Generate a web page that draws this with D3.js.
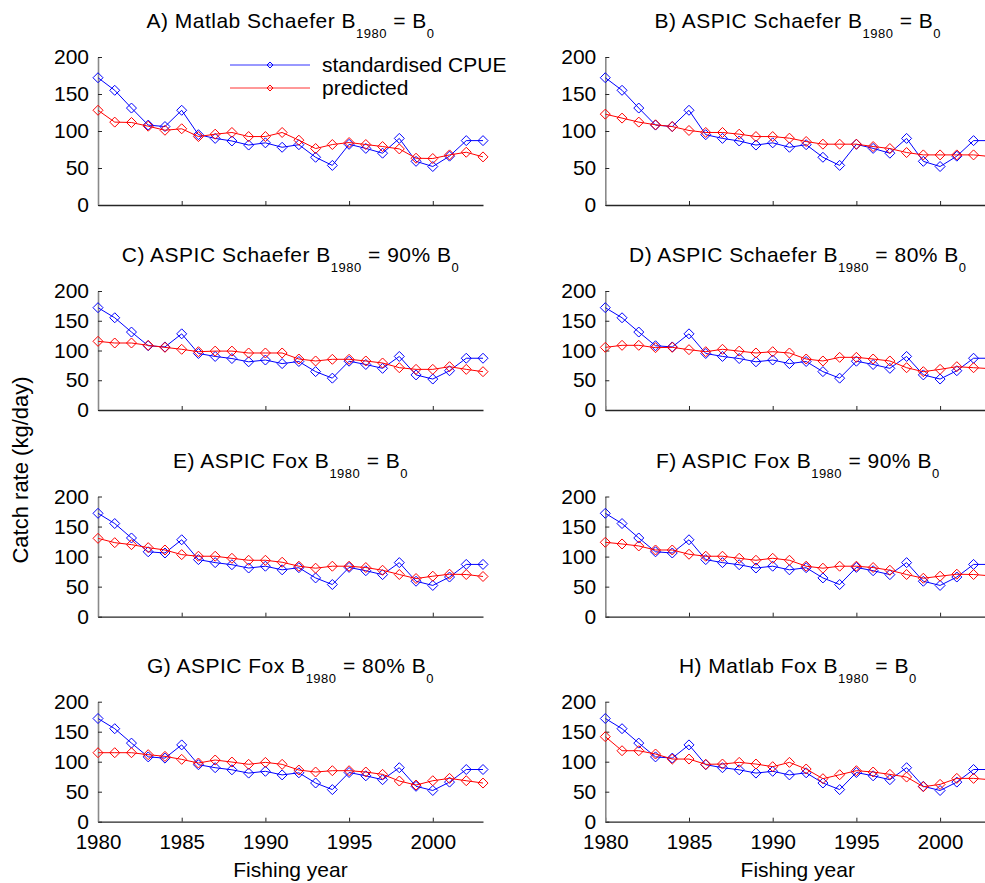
<!DOCTYPE html>
<html>
<head>
<meta charset="utf-8">
<script src="https://cdn.jsdelivr.net/npm/d3@7"></script>
<style>
  html, body { margin: 0; padding: 0; background: #fff; }
  svg { display: block; font-family: "Liberation Sans", Arial, sans-serif; }
</style>
</head>
<body>
<svg id="chart" width="985" height="883"></svg>
<script>
// ---------------- DATA ----------------
const years = [1980,1981,1982,1983,1984,1985,1986,1987,1988,1989,1990,1991,
               1992,1993,1994,1995,1996,1997,1998,1999,2000,2001,2002,2003];

const cpue = [172,155,131,108,106,128,95,90,86.5,81,84,78,
              81.5,64.5,53.5,82,76.5,70,90,59,52,66,87,87];

const predA = [128,112,111.5,106.5,101,103,92.5,95.7,98,92.5,92.5,98,
               87.6,76.3,81.7,84.4,81.7,79,75.8,63.2,62.8,67.7,71.3,65];
const predB = [122.8,117.4,112,108.4,106,100.7,98,98,95.7,92.5,92.5,90.3,
               85.8,82.2,82.2,82.2,79,76.3,70.9,67.7,67.7,67.7,67.7,65.5];
const predC = [115.4,112.6,112.6,108.7,105.3,102,98,99,99,95.8,95.8,95.8,
               85.7,82.4,85.2,85.2,82.4,79,71.1,68.3,68.3,72.8,68.3,64.4];
const predD = [105.3,108.7,108.7,104.8,105.3,101.4,98,102,99,95.8,98,95.8,
               85.7,82.4,88.5,88.5,85.7,82.4,71.1,64.4,68.3,72.8,71.1,69.5];
const predE = [130.4,123.2,119.9,114.9,111,103.3,100.6,100.6,97.2,93.9,93.9,90.6,
               84,80.7,84,84,81.8,77.3,70.2,63.5,67.4,70.7,70.2,66.9];
const predF = [123.8,121,117.7,111,111,103.9,100.6,100.6,97.2,93.9,97.2,93.9,
               84,80.7,84,84,81.8,77.3,70.2,64,67.4,70.7,70.2,68];
const predG = [115,115,115,111.7,108.9,103.9,97.8,102.8,99.4,95.6,98.9,95.6,
               86.1,82.8,85,85,82.8,78.9,67.8,61.1,68.3,72.2,68.3,64.4];
const predH = [141.7,118.3,118.3,112.8,104.4,104.4,95.6,96.1,98.9,96.1,91.7,98.9,
               87.8,71.7,78.3,85,82.8,78.9,74.4,58.3,62.2,72.2,72.2,70];

const titlePrefix = ["A) Matlab Schaefer", "B) ASPIC Schaefer", "C) ASPIC Schaefer", "D) ASPIC Schaefer",
                     "E) ASPIC Fox", "F) ASPIC Fox", "G) ASPIC Fox", "H) Matlab Fox"];
const titleRhs = ["B", "B", "90% B", "80% B", "B", "90% B", "80% B", "B"];
const predicted = [predA, predB, predC, predD, predE, predF, predG, predH];

const yTicks = [0, 50, 100, 150, 200];
const xTicks = [1980, 1985, 1990, 1995, 2000];
const seriesNames = ["standardised CPUE", "predicted"];
const yLabel = "Catch rate (kg/day)";
const xLabel = "Fishing year";

// ---------------- LAYOUT ----------------
const cols = [{x0: 98, x1: 483}, {x0: 605.3, x1: 990.3}];
const rows = [{top: 57, bottom: 205}, {top: 291, bottom: 410},
              {top: 496.5, bottom: 616.7}, {top: 701.7, bottom: 821.7}];
const BLUE = "#0000ff", RED = "#ff0000";
const FONT = 21, SUB = 13;

const svg = d3.select("#chart");
const diamond = r => `M0,${-r}L${r},0L0,${r}L${-r},0Z`;

predicted.forEach((pred, i) => {
  const col = cols[i % 2], row = rows[Math.floor(i / 2)];
  const isBottom = Math.floor(i / 2) === rows.length - 1;
  const x = d3.scaleLinear().domain([1980, 2003]).range([col.x0, col.x1]);
  const y = d3.scaleLinear().domain([0, 200]).range([row.bottom, row.top]);
  const g = svg.append("g");

  // axes
  const xa = g.append("g").attr("transform", `translate(0,${row.bottom})`)
    .call(d3.axisBottom(x).tickValues(xTicks).tickSizeInner(-4).tickSizeOuter(0).tickPadding(13)
      .tickFormat(isBottom ? d3.format("d") : () => ""));
  xa.select(".domain").attr("stroke", "#262626").attr("stroke-width", 1.3);
  xa.selectAll(".tick line").attr("stroke", "#262626");
  xa.selectAll("text").attr("font-size", 20.5).attr("fill", "#000").attr("font-family", "Liberation Sans, Arial, sans-serif");

  const ya = g.append("g").attr("transform", `translate(${col.x0},0)`)
    .call(d3.axisLeft(y).tickValues(yTicks).tickSizeInner(-4).tickSizeOuter(0).tickPadding(9));
  ya.select(".domain").attr("stroke", "#8a8a8a").attr("stroke-width", 1.6);
  ya.selectAll(".tick line").attr("stroke", "#262626");
  ya.selectAll("text").attr("font-size", FONT).attr("fill", "#000").attr("font-family", "Liberation Sans, Arial, sans-serif");

  // series
  const line = d3.line().x((d, j) => x(years[j])).y(d => y(d));
  [[cpue, BLUE], [pred, RED]].forEach(([vals, color]) => {
    g.append("path").datum(vals).attr("d", line)
      .attr("fill", "none").attr("stroke", color).attr("stroke-width", 1);
    g.selectAll(null).data(vals).enter().append("path")
      .attr("d", diamond(5))
      .attr("transform", (d, j) => `translate(${x(years[j])},${y(d)})`)
      .attr("fill", "none").attr("stroke", color).attr("stroke-width", 1);
  });

  // title
  const cx = (col.x0 + col.x1) / 2;
  const t = g.append("text").attr("x", cx).attr("y", row.top - 29)
    .attr("text-anchor", "middle").attr("font-size", FONT).attr("fill", "#000")
    .attr("letter-spacing", 0.5);
  t.append("tspan").text(titlePrefix[i] + " B");
  t.append("tspan").attr("font-size", SUB).attr("dy", 10).text("1980");
  t.append("tspan").attr("dy", -10).text(" = " + titleRhs[i]);
  t.append("tspan").attr("font-size", SUB).attr("dy", 10).text("0");

  if (isBottom) {
    g.append("text").attr("x", cx).attr("y", 877).attr("text-anchor", "middle")
      .attr("font-size", FONT).attr("fill", "#000").text(xLabel);
  }

  // legend (panel A only)
  if (i === 0) {
    const lg = svg.append("g");
    [[BLUE, 65], [RED, 88]].forEach(([color, ly], k) => {
      lg.append("line").attr("x1", 230).attr("x2", 310).attr("y1", ly).attr("y2", ly)
        .attr("stroke", color).attr("stroke-width", 1).attr("opacity", 0.8);
      lg.append("path").attr("d", diamond(3)).attr("transform", `translate(270,${ly})`)
        .attr("fill", "none").attr("stroke", color).attr("stroke-width", 1);
      lg.append("text").attr("x", 322).attr("y", ly).attr("dy", "0.35em")
        .attr("font-size", FONT).attr("fill", "#000").text(seriesNames[k]);
    });
  }
});

// y axis label
svg.append("text").attr("transform", "translate(28,470) rotate(-90)")
  .attr("text-anchor", "middle").attr("font-size", 22).attr("fill", "#000").text(yLabel);
</script>
</body>
</html>
